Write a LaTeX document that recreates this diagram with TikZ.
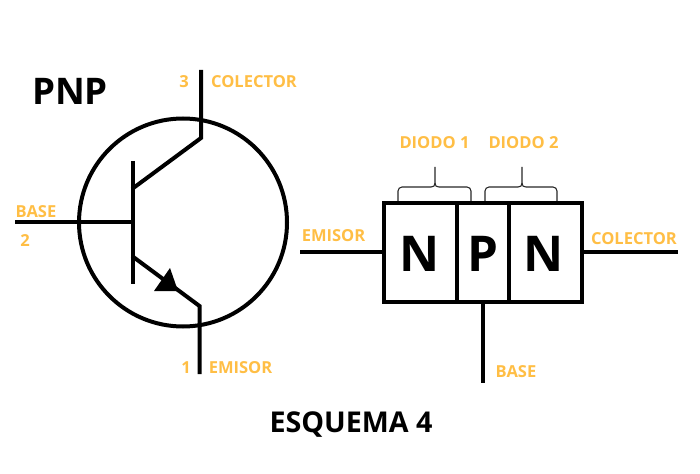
\documentclass[tikz,border=0pt]{standalone}
\usepackage{fontspec}
\setmainfont{Open Sans}
\usepackage{tikz}
\usetikzlibrary{positioning,calc}
\definecolor{labelorange}{HTML}{FFBE45}
\tikzset{
  wire/.style={line width=3pt, black},
  thinwire/.style={line width=0.8pt, black!85},
  segnode/.style={draw, line width=3pt, inner sep=0pt, outer sep=0pt, minimum height=74.25pt, align=center},
  segletter/.style={inner sep=0pt, font=\fontsize{37}{37}\selectfont\bfseries},
  ringnode/.style={draw, circle, line width=3pt, inner sep=0pt, outer sep=0pt, minimum size=156pt},
  pinlabel/.style={text=labelorange, font=\fontsize{12.4}{13}\selectfont\bfseries, inner sep=0pt},
  titlelabel/.style={black, inner sep=0pt, font=\bfseries}
}

\begin{document}
\begin{tikzpicture}[x=0.75pt, y=-0.75pt]
      \useasboundingbox (0,0) rectangle (700,474);
      % simbolo
      \node[ringnode] (ring) at (183,222.5) {};
      \coordinate (colTop) at (201,70);
      \coordinate (colKnee) at (201,138);
      \coordinate (colIn) at (132,189);
      \coordinate (barTop) at (132.5,161);
      \coordinate (barBot) at (132.5,284);
      \coordinate (baseEnd) at (15,222);
      \coordinate (baseIn) at (132.5,222);
      \coordinate (emiIn) at (132,256);
      \coordinate (emiKnee) at (199.5,306);
      \coordinate (emiEnd) at (199.5,374);
      \draw[wire] (colTop) -- (colKnee) -- (colIn);
      \draw[wire] (barTop) -- (barBot);
      \draw[wire] (baseEnd) -- (baseIn);
      \draw[wire] (emiIn) -- (emiKnee) -- (emiEnd);
      \fill (170,268) -- (154,291) -- (178,291) -- cycle;
      % bloques
      \node[segnode, minimum width=54.75pt] (segA) at (420.5,252.5) {};
      \node[segnode, minimum width=39pt] (segB) at (483,252.5) {};
      \node[segnode, minimum width=54.75pt] (segC) at (545.5,252.5) {};
      \node[segletter] (letterA) at (419.5,254) {N};
      \node[segletter] (letterB) at (483,254) {P};
      \node[segletter] (letterC) at (544,254) {N};
      \coordinate (emiLead) at (300,252.5);
      \coordinate (colLead) at (678,252.5);
      \coordinate (baseLead) at (483,383);
      \draw[wire] (emiLead) -- (segA.west);
      \draw[wire] (segC.east) -- (colLead);
      \draw[wire] (segB.south) -- (baseLead);
      % llaves
      \draw[thinwire, rounded corners=3pt] (398,201) -- (398,187) -- (431,187);
      \draw[thinwire, rounded corners=3pt] (471,201) -- (471,187) -- (439,187);
      \draw[thinwire] (431,187) .. controls (433.5,187) and (435,186) .. (435,183) -- (435,167);
      \draw[thinwire] (439,187) .. controls (436.5,187) and (435,186) .. (435,183);
      \draw[thinwire, rounded corners=3pt] (485,201) -- (485,187) -- (518,187);
      \draw[thinwire, rounded corners=3pt] (557,201) -- (557,187) -- (526,187);
      \draw[thinwire] (518,187) .. controls (520.5,187) and (522,186) .. (522,183) -- (522,167);
      \draw[thinwire] (526,187) .. controls (523.5,187) and (522,186) .. (522,183);
      % textos
      \node[titlelabel, font=\fontsize{27.5}{28}\selectfont\bfseries] (pnpTitle) at (70,91) {PNP};
      \node[titlelabel, font=\fontsize{21.5}{22}\selectfont\bfseries] (schemeTitle) at (351,425) {ESQUEMA 4};
      \node[pinlabel] (numThree) at (184,82) {3};
      \node[pinlabel] (lblColA) at (254,82) {COLECTOR};
      \node[pinlabel] (lblBaseA) at (36,212) {BASE};
      \node[pinlabel] (numTwo) at (25,241) {2};
      \node[pinlabel] (numOne) at (186,368) {1};
      \node[pinlabel] (lblEmiA) at (240.5,368) {EMISOR};
      \node[pinlabel] (lblEmiB) at (333.5,236) {EMISOR};
      \node[pinlabel] (lblColB) at (634,239) {COLECTOR};
      \node[pinlabel] (lblBaseB) at (516,372) {BASE};
      \node[pinlabel] (lblDiodeA) at (434.5,143) {DIODO 1};
      \node[pinlabel] (lblDiodeB) at (523.5,143) {DIODO 2};
    \end{tikzpicture}
\end{document}
